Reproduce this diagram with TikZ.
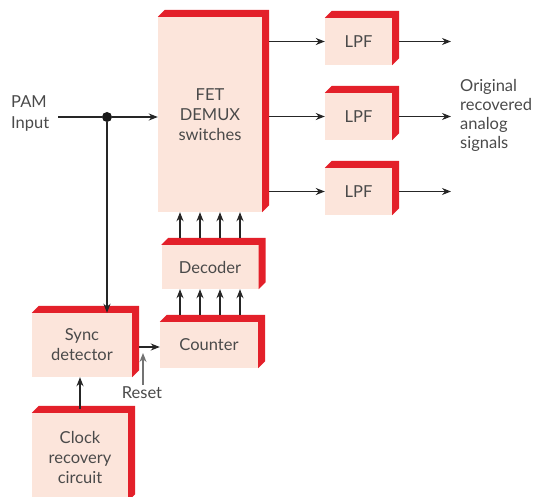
\documentclass[tikz,border=0pt]{standalone}
\usepackage{fontspec}
\setmainfont{Lato}
\usetikzlibrary{arrows.meta,calc}
\definecolor{boxfill}{HTML}{FCE5DB}
\definecolor{boxred}{HTML}{E3202A}
\definecolor{txtc}{HTML}{4A4A4A}
\tikzset{
  blk/.style={fill=boxfill, inner sep=0pt, text=txtc, font=\fontsize{16.5}{20}\selectfont, align=center},
  lbl/.style={inner sep=0pt, text=txtc, font=\fontsize{16.5}{19}\selectfont},
  conn/.style={line width=1.35pt, draw=black!85, -{Stealth[length=9pt,width=7pt]}},
}
\newcommand\redside[1]{\fill[boxred] (#1.north west) -- ++(7,-7) -- ($(#1.north east)+(7,-7)$) -- ($(#1.south east)+(7,-7)$) -- (#1.south east) -- (#1.north east) -- cycle;}
\begin{document}
\begin{tikzpicture}[x=1pt,y=-1pt]
\useasboundingbox (0,0) rectangle (541,497);
% blocks
\node[blk, minimum width=104pt, minimum height=195pt] (fet) at (210,114.5) {FET\\DEMUX\\switches};
\node[blk, minimum width=67pt, minimum height=47pt] (lpf1) at (358.5,41.5) {LPF};
\node[blk, minimum width=67pt, minimum height=47pt] (lpf2) at (358.5,116.5) {LPF};
\node[blk, minimum width=67pt, minimum height=47pt] (lpf3) at (358.5,191.5) {LPF};
\node[blk, minimum width=97pt, minimum height=44pt] (decoder) at (210,267) {Decoder};
\node[blk, minimum width=98pt, minimum height=46pt] (counter) at (209,345) {Counter};
\node[blk, minimum width=100pt, minimum height=64pt] (sync) at (82,345) {Sync\\detector};
\node[blk, minimum width=96pt, minimum height=88pt] (clock) at (80,457) {Clock\\recovery\\circuit};
\foreach \n in {fet,lpf1,lpf2,lpf3,decoder,counter,sync,clock} {\redside{\n}}
% labels
\node[lbl, align=left, anchor=west, font=\fontsize{16.5}{21}\selectfont] (pam) at (11,114) {PAM\\Input};
\node[lbl, align=left, anchor=west] (orig) at (460,115) {Original\\recovered\\analog\\signals};
\node[lbl] (reset) at (142,393) {Reset};
% coordinates
\coordinate (pin) at (58,117);
\coordinate (o1) at (451,0);
\node[circle, fill=black!90, inner sep=0pt, minimum size=10pt] (dot) at (107,117) {};
\coordinate (rs) at (143,353);
% connectors
\draw[line width=1.35pt, draw=black!85] (pin) -- (dot);
\draw[conn] (dot) -- (dot -| fet.west);
\draw[conn] (dot) -- (dot |- sync.north);
\foreach \k in {1,2,3} {
  \draw[conn] ($(fet.east |- lpf\k.west)+(7,0)$) -- (lpf\k.west);
  \draw[conn] ($(lpf\k.east)+(7,0)$) -- (o1 |- lpf\k.east);
}
\foreach \dx in {-30,-10,10,30} {
  \draw[conn] ($(decoder.north)+(\dx,-7)$) -- ($(fet.south)+(\dx,0)$);
  \draw[conn] ($(counter.north)+(\dx+1,-7)$) -- ($(decoder.south)+(\dx,0)$);
}
\draw[conn] ($(sync.east)+(7,2)$) -- ($(counter.west)+(0,2)$);
\draw[conn, draw=black!55] (reset.north) ++(1,-2) -- (rs);
\draw[conn] ($(clock.north)+(0,-4)$) -- (clock.north |- sync.south);
\end{tikzpicture}
\end{document}
